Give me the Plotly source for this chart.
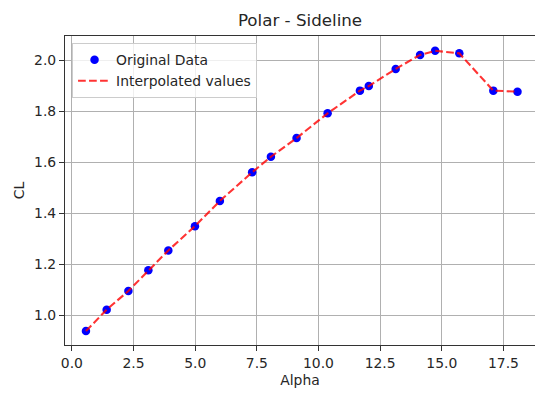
import plotly.graph_objects as go

alpha = [0.57, 1.41, 2.29, 3.10, 3.91, 4.99, 6.00, 7.31, 8.07, 9.11,
         10.37, 11.68, 12.04, 13.13, 14.12, 14.73, 15.71, 17.09, 18.07]
cl = [0.938, 1.022, 1.095, 1.176, 1.254, 1.349, 1.448, 1.560, 1.621, 1.694,
      1.791, 1.880, 1.898, 1.965, 2.020, 2.036, 2.026, 1.880, 1.876]

x_ticks = [0.0, 2.5, 5.0, 7.5, 10.0, 12.5, 15.0, 17.5]
y_ticks = [1.0, 1.2, 1.4, 1.6, 1.8, 2.0]

FONT = "DejaVu Sans"
TXT = "#262626"

fig = go.Figure()
fig.add_trace(go.Scatter(
    x=alpha, y=cl, mode="markers", name="Original Data",
    marker=dict(color="#0000ff", size=8.5, line=dict(width=0)),
))
fig.add_trace(go.Scatter(
    x=alpha, y=cl, mode="lines", name="Interpolated values",
    line=dict(color="rgba(255,0,0,0.8)", width=2.1, dash="7.7px,3.3px"),
))

fig.update_layout(
    width=535, height=394,
    margin=dict(l=65, r=0, t=36, b=49),
    paper_bgcolor="white", plot_bgcolor="white",
    font=dict(family=FONT, size=13.9, color=TXT),
    title=dict(text="Polar - Sideline", x=0.5, xanchor="center",
               xref="paper", y=1 - 20.5 / 394, yref="container", yanchor="middle",
               font=dict(family=FONT, size=16.7, color=TXT)),
    showlegend=True,
    legend=dict(x=0.015, y=0.977, xanchor="left", yanchor="top",
                bgcolor="rgba(255,255,255,0.8)", bordercolor="#cccccc", borderwidth=1,
                font=dict(family=FONT, size=13.9, color=TXT),
                itemwidth=33, tracegroupgap=0),
)
fig.update_xaxes(
    range=[-0.28, 18.78], tickvals=x_ticks, tickformat=".1f",
    showgrid=True, gridcolor="#b0b0b0", gridwidth=1.1,
    showline=True, linecolor="#333333", linewidth=1.1, mirror=True,
    ticks="outside", ticklen=5, tickwidth=1.1, tickcolor="#333333",
    zeroline=False,
    title=dict(text="Alpha", font=dict(family=FONT, size=13.9, color=TXT), standoff=5),
)
fig.update_yaxes(
    range=[0.8835, 2.094], tickvals=y_ticks, tickformat=".1f",
    showgrid=True, gridcolor="#b0b0b0", gridwidth=1.1,
    showline=True, linecolor="#333333", linewidth=1.1, mirror=False,
    ticks="outside", ticklen=5, tickwidth=1.1, tickcolor="#333333",
    zeroline=False,
    title=dict(text="CL", font=dict(family=FONT, size=13.9, color=TXT), standoff=6),
)

fig.write_html("out.html")
